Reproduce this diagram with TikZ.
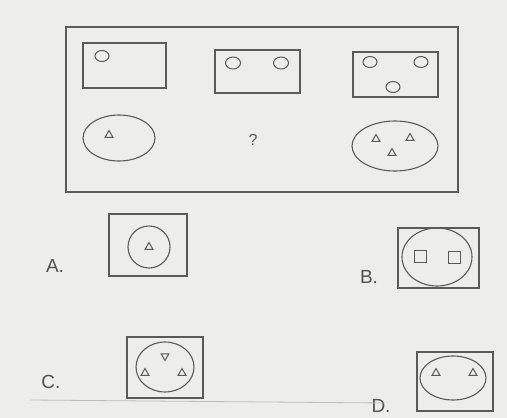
\documentclass[tikz,border=0pt]{standalone}
\usepackage{fontspec}
\setmainfont{Liberation Sans}
\usetikzlibrary{shapes.geometric}
\definecolor{paper}{HTML}{EDEDE9}
\definecolor{ink}{HTML}{5A5A58}
\begin{document}
\begin{tikzpicture}[x=1pt,y=-1pt,
  shape line/.style={draw=ink,line width=1.1pt},
  dot/.style={draw=ink,line width=1pt},
  lbl/.style={text=ink!90!black,font=\fontsize{19}{19}\selectfont,inner sep=0pt},
  tri/.pic={\draw[ink,line width=1pt] (270:4.5) -- (30:4.5) -- (150:4.5) -- cycle;},
  itri/.pic={\draw[ink,line width=1pt] (90:4.5) -- (210:4.5) -- (330:4.5) -- cycle;},
  sq/.pic={\draw[ink,line width=1pt] (-6,-6) rectangle (6,6);}]
\fill[paper] (0,0) rectangle (507,418);
\useasboundingbox (0,0) rectangle (507,418);
% main frame
\draw[shape line] (66,27) rectangle (458,192);
% top row
\node[shape line,minimum width=83pt,minimum height=45pt,inner sep=0pt] (r1) at (124.5,65.5) {};
\draw[dot] (102,56) ellipse (7 and 5.5);
\node[shape line,minimum width=85pt,minimum height=43pt,inner sep=0pt] (r2) at (257.5,71.5) {};
\draw[dot] (233,63) ellipse (7.5 and 6);
\draw[dot] (281,63) ellipse (7.5 and 6);
\node[shape line,minimum width=85pt,minimum height=45pt,inner sep=0pt] (r3) at (395.5,74.5) {};
\draw[dot] (370,62) ellipse (7 and 5.5);
\draw[dot] (421,62) ellipse (7 and 5.5);
\draw[dot] (393,87) ellipse (7 and 5.5);
% bottom row
\node[shape line,ellipse,minimum width=72pt,minimum height=46pt,inner sep=0pt] (e1) at (119,138) {};
\pic at (109,135) {tri};
\node[text=ink,font=\fontsize{16}{16}\selectfont] (q) at (253,140) {?};
\node[shape line,ellipse,minimum width=86pt,minimum height=50pt,inner sep=0pt] (e3) at (395,146) {};
\pic at (376,139) {tri};
\pic at (410,138) {tri};
\pic at (392,153) {tri};
% option A
\node[lbl] (la) at (55,266) {A.};
\node[shape line,minimum width=78pt,minimum height=62pt,inner sep=0pt] (ba) at (148,245) {};
\draw[shape line] (149,247) circle (21);
\pic at (149,247) {tri};
% option B
\node[lbl] (lb) at (369,277) {B.};
\node[shape line,minimum width=81pt,minimum height=60pt,inner sep=0pt] (bb) at (438.5,258) {};
\draw[shape line] (437,257) ellipse (35 and 29);
\pic at (420,256) {sq};
\pic at (454,257) {sq};
% option C
\node[lbl] (lc) at (51,382) {C.};
\node[shape line,minimum width=76pt,minimum height=61pt,inner sep=0pt] (bc) at (165,367.5) {};
\draw[shape line] (165,367) ellipse (29 and 25);
\pic at (165,356) {itri};
\pic at (145,373) {tri};
\pic at (182,373) {tri};
% option D
\node[lbl] (ld) at (381,406) {D.};
\node[shape line,minimum width=76pt,minimum height=59pt,inner sep=0pt] (bd) at (455,381.5) {};
\draw[shape line] (453,378) ellipse (33 and 22);
\pic at (436,373) {tri};
\pic at (473,373) {tri};
% faint scan line
\draw[ink!40,line width=0.8pt] (30,400) -- (385,403);
\end{tikzpicture}
\end{document}
